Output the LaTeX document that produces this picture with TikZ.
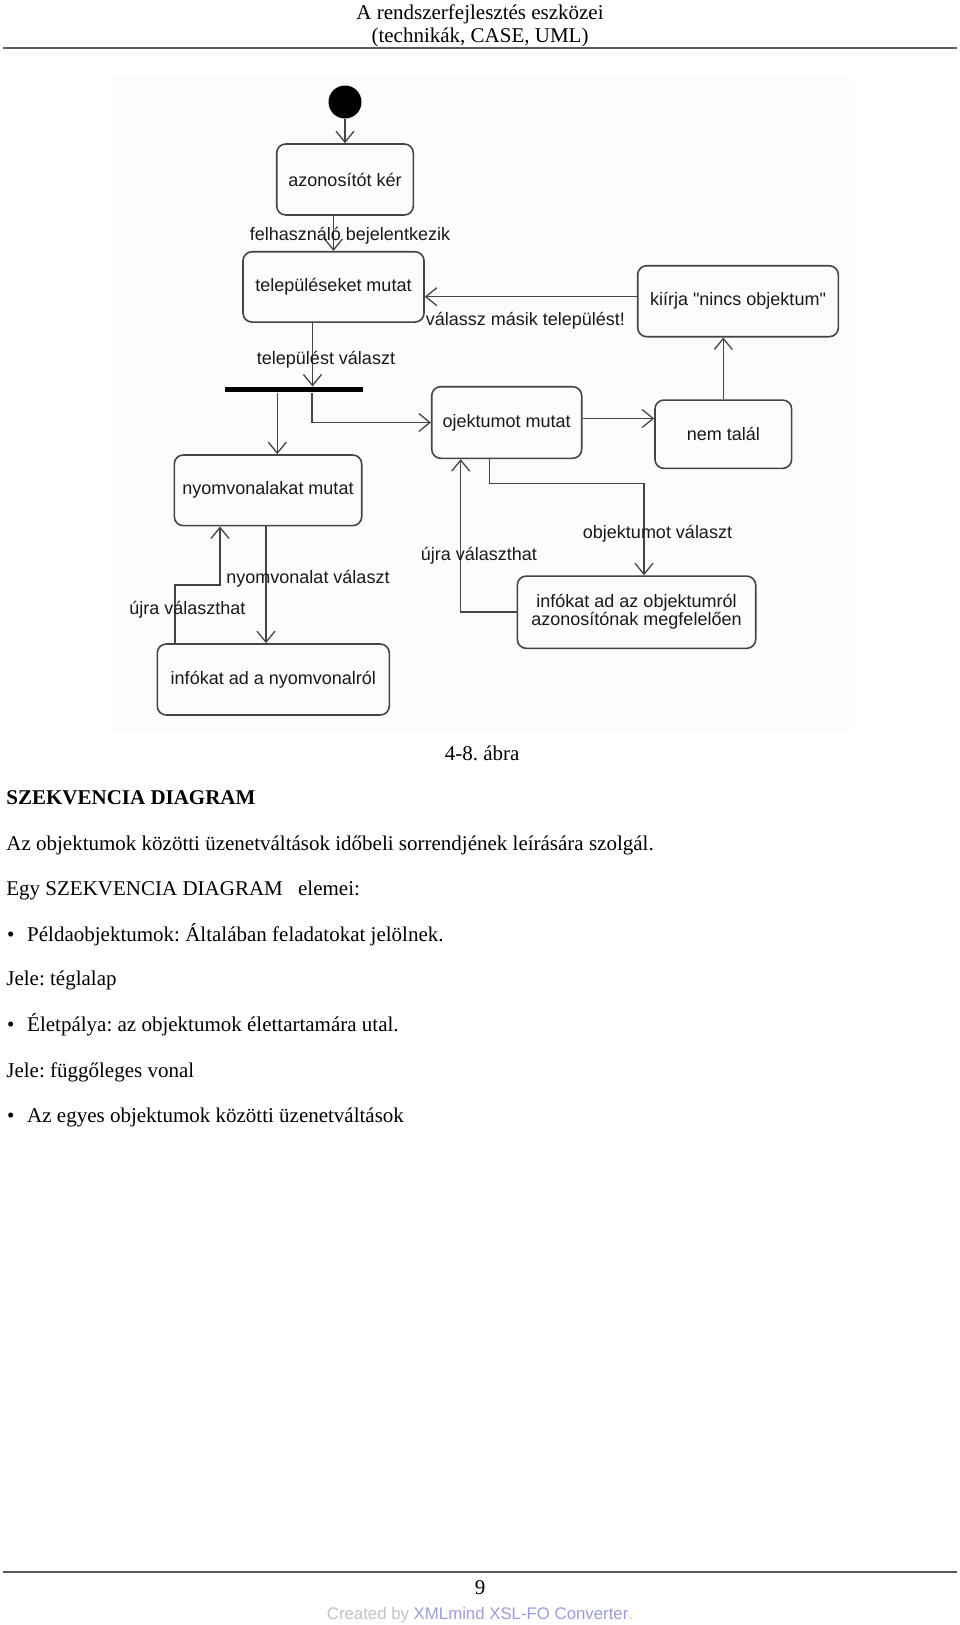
\documentclass[tikz,border=0pt]{standalone}
\usepackage{fontspec}
\setmainfont{Liberation Serif}
\newfontfamily\diagfont{Liberation Sans}
\newfontfamily\footfont{Liberation Sans}
\usetikzlibrary{arrows.meta}
\definecolor{linegray}{HTML}{454545}
\definecolor{rulegray}{HTML}{5A5A5A}
\definecolor{xmlblue}{HTML}{9C9CE0}
\definecolor{credgray}{HTML}{C2C2C2}
\frenchspacing
\tikzstyle{state}=[draw=linegray, line width=1.6pt, rounded corners=9pt, inner sep=0pt, align=center, text=black!90, font=\diagfont\fontsize{18}{18}\selectfont]
\tikzstyle{trans}=[draw=linegray, line width=1.5pt, -{Straight Barb[length=11pt,width=18pt,line width=1.3pt]}]
\tikzstyle{lab}=[inner sep=0pt, text=black!90, font=\diagfont\fontsize{18}{18}\selectfont]
\tikzstyle{pagetext}=[anchor=base west, inner sep=0pt, font=\fontsize{21}{24}\selectfont]

\begin{document}
\begin{tikzpicture}[x=1pt,y=-1pt]
\useasboundingbox (0,0) rectangle (960,1625);
\fill [black!1] (112,77) rectangle (850,731);
\node (hdra) [pagetext, anchor=base] at (480,19.7) {A rendszerfejlesztés eszközei};
\node (hdrb) [pagetext, anchor=base] at (480,42.5) {(technikák, CASE, UML)};
\draw [rulegray, line width=2pt] (3,47.7) -- (957,47.7);
\node (start) [circle, fill=black, minimum size=33pt, inner sep=0pt] at (345,102) {};
\node (azon) [state, minimum width=136.6pt, minimum height=71pt] at (345,179.5) {azonosítót kér};
\node (telep) [state, minimum width=181pt, minimum height=70.3pt] at (333.5,286.9) {településeket mutat};
\node (kiir) [state, minimum width=200.6pt, minimum height=71pt] at (738,301.2) {kiírja "nincs objektum"};
\node (fork) [fill=black, inner sep=0pt, minimum width=137.7pt, minimum height=5.6pt] at (293.85,389.5) {};
\node (ojekt) [state, minimum width=150pt, minimum height=71.6pt] at (506.7,422.5) {ojektumot mutat};
\node (nemtal) [state, minimum width=136.7pt, minimum height=68.3pt] at (723.3,434.2) {nem talál};
\node (nyomv) [state, minimum width=187.4pt, minimum height=70.7pt] at (268,490.3) {nyomvonalakat mutat};
\node (infoobj) [state, minimum width=238.4pt, minimum height=72.3pt] at (636.5,612.2) {infókat ad az objektumról\\azonosítónak megfelelően};
\node (infonyom) [state, minimum width=232pt, minimum height=71pt] at (273.3,679.5) {infókat ad a nyomvonalról};
\coordinate (kw) at ([yshift=4.5pt]kiir.west);
\draw [trans] (start) -- (azon);
\draw [trans] (azon.south -| telep.north) -- (telep.north);
\draw [trans] (kw) -- (telep.east |- kw);
\draw [trans] ([xshift=-21pt]telep.south) -- ([xshift=-21pt]telep.south |- fork.north);
\draw [trans] ([xshift=9.3pt]nyomv.north |- fork.south) -- ([xshift=9.3pt]nyomv.north);
\draw [trans] ([xshift=18pt]fork.south) |- (ojekt.west);
\draw [trans] ([yshift=4pt]ojekt.east) -- ([yshift=4pt]ojekt.east -| nemtal.west);
\draw [trans] (nemtal.north) -- (nemtal.north |- kiir.south);
\draw [trans] ([xshift=-17.4pt]ojekt.south) -- ++(0,24.4) -| ([xshift=7.5pt]infoobj.north);
\draw [trans] (infoobj.west) -| ([xshift=-46pt]ojekt.south);
\draw [trans] ([xshift=-2pt]nyomv.south) -- ([xshift=-2pt]nyomv.south |- infonyom.north);
\draw [trans] ([xshift=-98.3pt]infonyom.north) -- ++(0,-58) -| ([xshift=-48pt]nyomv.south);
\node (lbejel) [lab] at (350,235.7) {felhasználó bejelentkezik};
\node (lmasik) [lab] at (525.4,321) {válassz másik települést!};
\node (ltelep) [lab] at (326,360) {települést választ};
\node (lnyomv) [lab] at (308,578.3) {nyomvonalat választ};
\node (lujraa) [lab] at (187.5,610) {újra választhat};
\node (lobj) [lab] at (657.5,533.3) {objektumot választ};
\node (lujrab) [lab] at (479,555.7) {újra választhat};
\node (abra) [pagetext] at (444.7,760) {4-8. ábra};
\node (cim) [pagetext] at (6.2,804.5) {\bfseries SZEKVENCIA DIAGRAM};
\node (sora) [pagetext] at (6.2,850) {Az objektumok közötti üzenetváltások időbeli sorrendjének leírására szolgál.};
\node (sorb) [pagetext] at (6.2,895.7) {Egy SZEKVENCIA DIAGRAM\hspace{10pt} elemei:};
\node (bula) [pagetext] at (7,941.3) {•};
\node (sorc) [pagetext] at (27,941.3) {Példaobjektumok: Általában feladatokat jelölnek.};
\node (sord) [pagetext] at (6.2,985.9) {Jele: téglalap};
\node (bulb) [pagetext] at (7,1031.5) {•};
\node (sore) [pagetext] at (27,1031.5) {Életpálya: az objektumok élettartamára utal.};
\node (sorf) [pagetext] at (6.2,1077.2) {Jele: függőleges vonal};
\node (bulc) [pagetext] at (7,1122.8) {•};
\node (sorg) [pagetext] at (27,1122.8) {Az egyes objektumok közötti üzenetváltások};
\draw [rulegray, line width=2pt] (3,1571.6) -- (957,1571.6);
\node (oldal) [pagetext, anchor=base] at (480,1594.5) {9};
\node (gen) [anchor=base, inner sep=0pt, font=\footfont\fontsize{16.8}{18}\selectfont] at (480,1619.4) {\textcolor{credgray}{Created by }\textcolor{xmlblue}{XMLmind XSL-FO Converter}\textcolor{credgray}{.}};
\end{tikzpicture}
\end{document}
